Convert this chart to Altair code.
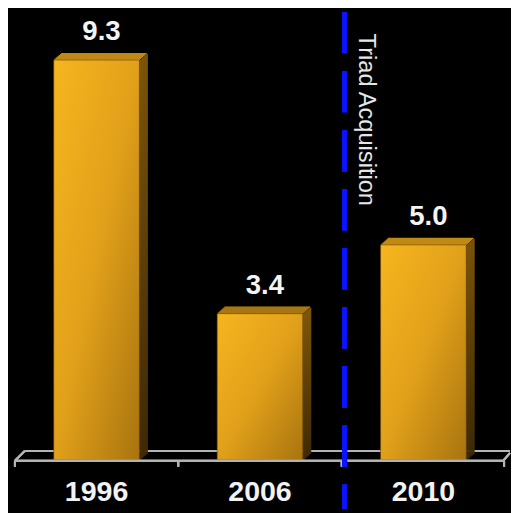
import altair as alt
import pandas as pd

years = ["1996", "2006", "2010"]
values = [9.3, 3.4, 5.0]
labels = ["9.3", "3.4", "5.0"]
event_label = "Triad Acquisition"

df = pd.DataFrame({"year": years, "value": values, "label": labels})

FONT = "Liberation Sans"
PLOT_W, PLOT_H = 498, 455
Y_MAX = 10.42
DEPTH_X, DEPTH_Y = 8, 7

xscale = alt.Scale(domain=years, paddingInner=0.476, paddingOuter=0.238)
yscale = alt.Scale(domain=[0, Y_MAX])

x_enc = alt.X("year:N", scale=xscale, sort=years,
              axis=alt.Axis(title=None, domain=False, ticks=False, labelAngle=0,
                            labelFont=FONT, labelFontSize=29, labelFontWeight="bold",
                            labelColor="#f2f2f2", labelPadding=18, labelBaseline="top"))
y_enc = alt.Y("value:Q", scale=yscale, axis=None)

base = alt.Chart(df)

layers = []

# floor back line (behind bars)
floor_col = "#b4b4b4"
layers.append(base.mark_rule(color=floor_col, strokeWidth=2).encode(
    x=alt.value(10), x2=alt.value(503), y=alt.value(PLOT_H - 9)))

# side faces (strips forming a parallelogram)
for k in range(DEPTH_X):
    off = k * DEPTH_Y / DEPTH_X
    layers.append(base.mark_bar(
        width=1.6, xOffset=43.5 + k + 0.8, yOffset=-off, y2Offset=-off,
        color=alt.LinearGradient(gradient="linear", x1=0, y1=0, x2=0, y2=1,
                                 stops=[alt.GradientStop(color="#7e560a", offset=0),
                                        alt.GradientStop(color="#3e2a04", offset=1)])
    ).encode(x=x_enc, y=y_enc, y2=alt.datum(0)))

# top faces
for k in range(DEPTH_Y):
    layers.append(base.mark_bar(
        xOffset=(k + 0.5) * DEPTH_X / DEPTH_Y, yOffset=-k - 1.3, y2Offset=-k,
        color="#c08914"
    ).encode(x=x_enc, y=y_enc, y2=alt.Y2("value:Q")))

# front faces
front = base.mark_bar(
    color=alt.LinearGradient(gradient="linear", x1=0, y1=0, x2=1, y2=1,
                             stops=[alt.GradientStop(color="#f6b61e", offset=0),
                                    alt.GradientStop(color="#e1a01a", offset=0.5),
                                    alt.GradientStop(color="#a8740f", offset=1)]),
    stroke="#6e4a07", strokeWidth=0.6
).encode(x=x_enc, y=y_enc)
layers.append(front)

# floor front line + edges + ticks
layers.append(base.mark_rule(color=floor_col, strokeWidth=2).encode(
    x=alt.value(0), x2=alt.value(496), y=alt.value(PLOT_H + 1)))
layers.append(base.mark_rule(color=floor_col, strokeWidth=2).encode(
    x=alt.value(0), x2=alt.value(10), y=alt.value(PLOT_H + 1), y2=alt.value(PLOT_H - 9)))
layers.append(base.mark_rule(color=floor_col, strokeWidth=2).encode(
    x=alt.value(496), x2=alt.value(503), y=alt.value(PLOT_H + 1), y2=alt.value(PLOT_H - 7)))
for tx in [0, 166, 332, 497]:
    layers.append(base.mark_rule(color=floor_col, strokeWidth=2).encode(
        x=alt.value(tx), y=alt.value(PLOT_H + 1), y2=alt.value(PLOT_H + 7)))

# value labels
layers.append(base.mark_text(
    font=FONT, fontSize=28, fontWeight="bold", color="#f4f4f4",
    baseline="alphabetic", dx=5, dy=-20
).encode(x=x_enc, y=y_enc, text="label:N"))

# event line + label
layers.append(base.mark_rule(color="#0a14ff", strokeWidth=5, strokeDash=[42, 18]).encode(
    x=alt.value(335), y=alt.value(0), y2=alt.value(PLOT_H + 50)))
layers.append(alt.Chart(pd.DataFrame({"t": [event_label]})).mark_text(
    font=FONT, fontSize=24, color="#e6e6e6", angle=90, align="left",
    baseline="alphabetic"
).encode(x=alt.value(350), y=alt.value(22), text="t:N"))

chart = alt.layer(*layers).properties(
    width=PLOT_W, height=PLOT_H,
    background="#000000",
    padding={"left": 7, "top": 0, "right": 6, "bottom": 50},
    autosize=alt.AutoSizeParams(type="none"),
).configure_view(stroke=None)

chart.save("out.html", embed_options={"renderer": "svg", "actions": False})
